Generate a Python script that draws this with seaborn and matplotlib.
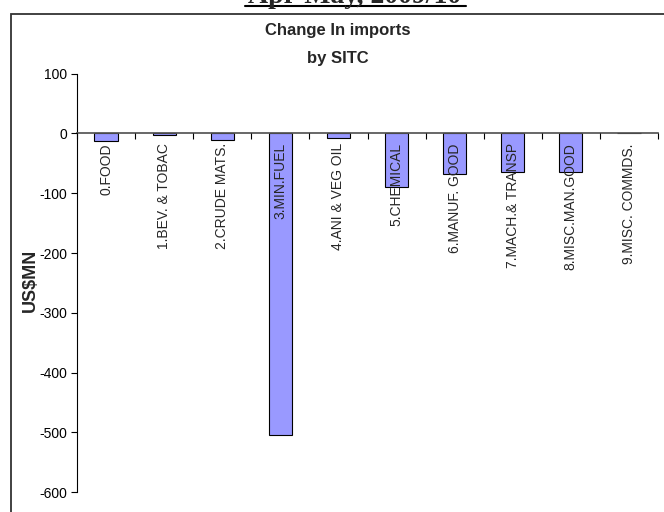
"""Change in imports by SITC section, Apr-May 2009/10."""

import matplotlib.pyplot as plt
import pandas as pd
import seaborn as sns
from matplotlib.lines import Line2D
from matplotlib.patches import Rectangle

sns.set_theme(style="white")
plt.rcParams["font.family"] = ["Liberation Sans", "DejaVu Sans"]

CATEGORIES = [
    "0.FOOD",
    "1.BEV. & TOBAC",
    "2.CRUDE MATS.",
    "3.MIN.FUEL",
    "4.ANI & VEG OIL",
    "5.CHEMICAL",
    "6.MANUF. GOOD",
    "7.MACH.& TRANSP",
    "8.MISC.MAN.GOOD",
    "9.MISC. COMMDS.",
]
CHANGE_USD_MN = [-12, -2, -11, -504, -7, -90, -67, -65, -65, 0]
Y_TICKS = [100, 0, -100, -200, -300, -400, -500, -600]


def main() -> None:
    df = pd.DataFrame({"sitc": CATEGORIES, "change": CHANGE_USD_MN})

    fig = plt.figure(figsize=(6.64, 5.12), dpi=100)
    ax = fig.add_axes([0.116, 0.039, 0.875, 0.817])

    sns.barplot(
        data=df,
        x="sitc",
        y="change",
        color="#9999FF",
        saturation=1,
        edgecolor="black",
        linewidth=0.8,
        width=0.4,
        ax=ax,
    )
    # Excel draws the category labels over the bars
    ax.set_axisbelow(False)

    ax.set_ylim(-600, 100)
    ax.set_xlim(-0.5, len(CATEGORIES) - 0.5)
    ax.set_yticks(Y_TICKS)
    ax.set_yticklabels([str(v) for v in Y_TICKS], fontsize=10, color="black")
    ax.tick_params(axis="y", direction="out", length=4, width=0.8, color="black",
                   left=True, pad=3)

    # category axis sits on zero, labels hang below it
    ax.spines["bottom"].set_position(("data", 0))
    ax.spines["bottom"].set_color("#555555")
    ax.spines["left"].set_color("black")
    ax.spines["left"].set_linewidth(0.8)
    ax.spines["top"].set_visible(False)
    ax.spines["right"].set_visible(False)

    ax.set_xticks(range(len(CATEGORIES)))
    ax.set_xticklabels(CATEGORIES, rotation=90, fontsize=10, va="top", ha="center")
    ax.tick_params(axis="x", which="major", length=0, pad=7)
    ax.set_xticks([i - 0.5 for i in range(len(CATEGORIES) + 1)], minor=True)
    ax.tick_params(axis="x", which="minor", direction="out", length=4, width=0.8,
                   color="black", bottom=True)

    ax.set_xlabel("")
    ax.set_ylabel("US$MN", fontsize=13, fontweight="bold")
    ax.yaxis.set_label_coords(-0.066, 0.505)

    fig.text(0.509, 0.941, "Change In imports", ha="center", va="center",
             fontsize=12, fontweight="bold")
    fig.text(0.509, 0.886, "by SITC", ha="center", va="center",
             fontsize=12, fontweight="bold")

    # outer chart frame and the page heading cut off at the top
    fig.patches.append(Rectangle((11 / 664, -0.1), 1.1, 1.1 - 14 / 512,
                                 transform=fig.transFigure, fill=False,
                                 edgecolor="#333333", linewidth=1.3))
    fig.text(355 / 664, 1 - 3 / 512, "Apr-May, 2009/10", ha="center",
             va="baseline", fontsize=20, fontweight="bold",
             family=["Liberation Serif", "DejaVu Serif"])
    fig.lines.append(Line2D([245 / 664, 466 / 664], [1 - 6 / 512, 1 - 6 / 512],
                            transform=fig.transFigure, color="black", linewidth=1.5))

    fig.savefig("out.png", dpi=100)


if __name__ == "__main__":
    main()
